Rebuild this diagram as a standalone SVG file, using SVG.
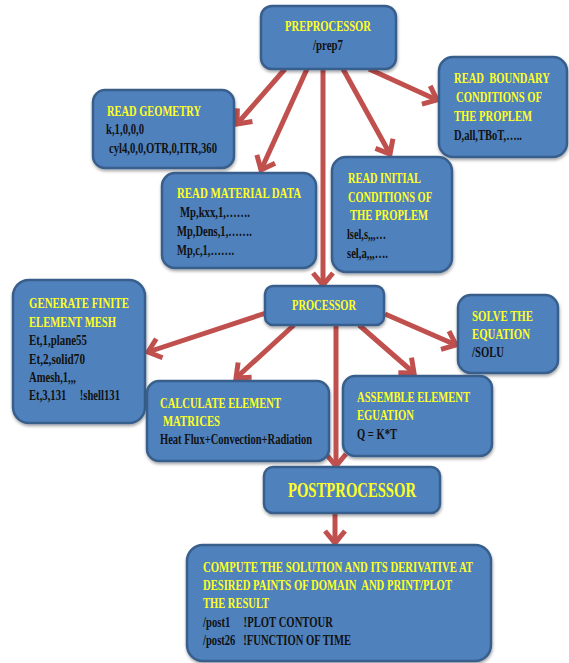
<svg xmlns="http://www.w3.org/2000/svg" width="569" height="663" viewBox="0 0 569 663">
<style>
.box{fill:#4F81BD;stroke:#395E8C;stroke-width:2.5}
.y{fill:#FFFF26;font-family:"Liberation Serif",serif;font-weight:bold;font-size:14px;white-space:pre}
.d{fill:#111;font-family:"Liberation Serif",serif;font-weight:bold;font-size:14px;white-space:pre}
.c{fill:none;stroke:#C0504D;stroke-width:5;stroke-linecap:butt}
</style>
<defs>
<filter id="sh" x="-10%" y="-10%" width="120%" height="130%">
<feDropShadow dx="0.5" dy="2" stdDeviation="1.5" flood-color="#000" flood-opacity="0.35"/>
</filter>
<marker id="ah" markerUnits="userSpaceOnUse" viewBox="-16 -12 20 24" markerWidth="20" markerHeight="24" refX="0" refY="0" orient="auto">
<path d="M-12,-10 L0,0 L-12,10" fill="none" stroke="#C0504D" stroke-width="5" stroke-linejoin="miter"/>
</marker>
</defs>
<rect width="569" height="663" fill="#fff"/>
<g id="connectors">
<line class="c" x1="285" y1="69" x2="237" y2="124" marker-end="url(#ah)"/>
<line class="c" x1="307" y1="69" x2="261" y2="170" marker-end="url(#ah)"/>
<line class="c" x1="323" y1="69" x2="323" y2="285" marker-end="url(#ah)"/>
<line class="c" x1="343" y1="69" x2="390" y2="154" marker-end="url(#ah)"/>
<line class="c" x1="369" y1="69" x2="437" y2="100" marker-end="url(#ah)"/>
<line class="c" x1="266" y1="313" x2="148" y2="352" marker-end="url(#ah)"/>
<line class="c" x1="294" y1="325" x2="236" y2="378" marker-end="url(#ah)"/>
<line class="c" x1="336" y1="325" x2="336" y2="466" marker-end="url(#ah)"/>
<line class="c" x1="359" y1="325" x2="414" y2="373" marker-end="url(#ah)"/>
<line class="c" x1="385" y1="314" x2="456" y2="345" marker-end="url(#ah)"/>
<line class="c" x1="335" y1="513" x2="335" y2="543" marker-end="url(#ah)"/>
</g>
<g id="preprocessor">
<rect class="box" x="261" y="6" width="135" height="63" rx="11" filter="url(#sh)"/>
<text class="y" x="285" y="31" textLength="86" lengthAdjust="spacingAndGlyphs">PREPROCESSOR</text>
<text class="d" x="313" y="50" textLength="30" lengthAdjust="spacingAndGlyphs">/prep7</text>
</g>
<g id="read-geometry">
<rect class="box" x="93" y="90" width="141" height="78" rx="12" filter="url(#sh)"/>
<text class="y" x="107" y="116" textLength="94" lengthAdjust="spacingAndGlyphs">READ GEOMETRY</text>
<text class="d" x="106" y="134" textLength="38" lengthAdjust="spacingAndGlyphs">k,1,0,0,0</text>
<text class="d" x="109" y="153" textLength="108" lengthAdjust="spacingAndGlyphs">cyl4,0,0,OTR,0,ITR,360</text>
</g>
<g id="read-boundary">
<rect class="box" x="439" y="57" width="128" height="100" rx="14" filter="url(#sh)"/>
<text class="y" x="454" y="83" textLength="96" lengthAdjust="spacingAndGlyphs" xml:space="preserve">READ  BOUNDARY</text>
<text class="y" x="456" y="102" textLength="86" lengthAdjust="spacingAndGlyphs">CONDITIONS OF</text>
<text class="y" x="454" y="121" textLength="78" lengthAdjust="spacingAndGlyphs">THE PROPLEM</text>
<text class="d" x="454" y="140" textLength="68" lengthAdjust="spacingAndGlyphs">D,all,TBoT,…..</text>
</g>
<g id="read-material">
<rect class="box" x="162" y="173" width="154" height="95" rx="13" filter="url(#sh)"/>
<text class="y" x="177" y="198" textLength="124" lengthAdjust="spacingAndGlyphs">READ MATERIAL DATA</text>
<text class="d" x="180" y="217" textLength="70" lengthAdjust="spacingAndGlyphs">Mp,kxx,1,…….</text>
<text class="d" x="177" y="236" textLength="75" lengthAdjust="spacingAndGlyphs">Mp,Dens,1,…….</text>
<text class="d" x="177" y="255" textLength="57" lengthAdjust="spacingAndGlyphs">Mp,c,1,…….</text>
</g>
<g id="read-initial">
<rect class="box" x="332" y="157" width="120" height="115" rx="14" filter="url(#sh)"/>
<text class="y" x="348" y="183" textLength="73" lengthAdjust="spacingAndGlyphs">READ INITIAL</text>
<text class="y" x="348" y="202" textLength="84" lengthAdjust="spacingAndGlyphs">CONDITIONS OF</text>
<text class="y" x="350" y="220" textLength="78" lengthAdjust="spacingAndGlyphs">THE PROPLEM</text>
<text class="d" x="347" y="239" textLength="39" lengthAdjust="spacingAndGlyphs">lsel,s,,,…</text>
<text class="d" x="347" y="258" textLength="41" lengthAdjust="spacingAndGlyphs">sel,a,,,….</text>
</g>
<g id="processor">
<rect class="box" x="265" y="286" width="119" height="39" rx="8" filter="url(#sh)"/>
<text class="y" x="292" y="310" textLength="64" lengthAdjust="spacingAndGlyphs">PROCESSOR</text>
</g>
<g id="generate-mesh">
<rect class="box" x="13" y="280" width="132" height="143" rx="16" filter="url(#sh)"/>
<text class="y" x="29" y="308" textLength="100" lengthAdjust="spacingAndGlyphs">GENERATE FINITE</text>
<text class="y" x="29" y="327" textLength="87" lengthAdjust="spacingAndGlyphs">ELEMENT MESH</text>
<text class="d" x="29" y="345" textLength="58" lengthAdjust="spacingAndGlyphs">Et,1,plane55</text>
<text class="d" x="29" y="364" textLength="56" lengthAdjust="spacingAndGlyphs">Et,2,solid70</text>
<text class="d" x="29" y="382" textLength="47" lengthAdjust="spacingAndGlyphs">Amesh,1,,,</text>
<text class="d" x="29" y="400" textLength="91" lengthAdjust="spacingAndGlyphs" xml:space="preserve">Et,3,131     !shell131</text>
</g>
<g id="calculate-matrices">
<rect class="box" x="147" y="381" width="182" height="80" rx="12" filter="url(#sh)"/>
<text class="y" x="160" y="408" textLength="121" lengthAdjust="spacingAndGlyphs">CALCULATE ELEMENT</text>
<text class="y" x="163" y="426" textLength="57" lengthAdjust="spacingAndGlyphs">MATRICES</text>
<text class="d" x="160" y="444" textLength="152" lengthAdjust="spacingAndGlyphs">Heat Flux+Convection+Radiation</text>
</g>
<g id="solve">
<rect class="box" x="458" y="295" width="100" height="78" rx="13" filter="url(#sh)"/>
<text class="y" x="472" y="321" textLength="61" lengthAdjust="spacingAndGlyphs">SOLVE THE</text>
<text class="y" x="472" y="339" textLength="58" lengthAdjust="spacingAndGlyphs">EQUATION</text>
<text class="d" x="472" y="357" textLength="32" lengthAdjust="spacingAndGlyphs">/SOLU</text>
</g>
<g id="assemble">
<rect class="box" x="343" y="376" width="149" height="80" rx="12" filter="url(#sh)"/>
<text class="y" x="357" y="402" textLength="113" lengthAdjust="spacingAndGlyphs">ASSEMBLE ELEMENT</text>
<text class="y" x="357" y="420" textLength="57" lengthAdjust="spacingAndGlyphs">EGUATION</text>
<text class="d" x="357" y="439" textLength="40" lengthAdjust="spacingAndGlyphs">Q = K*T</text>
</g>
<g id="postprocessor">
<rect class="box" x="264" y="467" width="176" height="46" rx="9" filter="url(#sh)"/>
<text class="y" x="288" y="497" style="font-size:20px" textLength="128" lengthAdjust="spacingAndGlyphs">POSTPROCESSOR</text>
</g>
<g id="compute-result">
<rect class="box" x="187" y="545" width="304" height="116" rx="16" filter="url(#sh)"/>
<text class="y" x="203" y="572" textLength="270" lengthAdjust="spacingAndGlyphs">COMPUTE THE SOLUTION AND ITS DERIVATIVE AT</text>
<text class="y" x="203" y="590" textLength="249" lengthAdjust="spacingAndGlyphs" xml:space="preserve">DESIRED PAINTS OF DOMAIN  AND PRINT/PLOT</text>
<text class="y" x="203" y="608" textLength="66" lengthAdjust="spacingAndGlyphs">THE RESULT</text>
<text class="d" x="203" y="627" textLength="130" lengthAdjust="spacingAndGlyphs" xml:space="preserve">/post1     !PLOT CONTOUR</text>
<text class="d" x="203" y="645" textLength="148" lengthAdjust="spacingAndGlyphs" xml:space="preserve">/post26   !FUNCTION OF TIME</text>
</g>
</svg>
